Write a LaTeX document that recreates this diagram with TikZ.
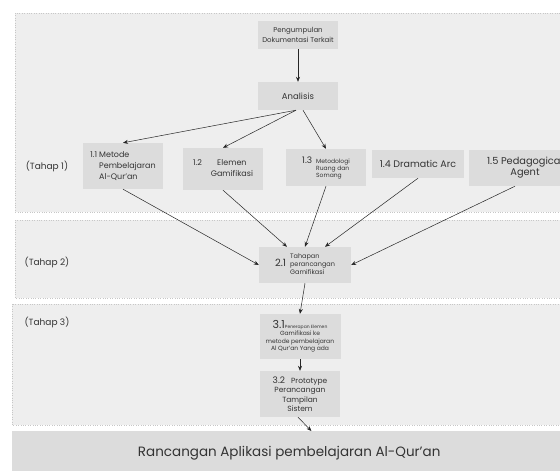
\documentclass[tikz,border=0pt]{standalone}
\usepackage{fontspec}
\setmainfont{Poppins}
\usetikzlibrary{arrows.meta}
\definecolor{bandgray}{HTML}{EEEEEE}
\definecolor{boxgray}{HTML}{DCDCDC}
\definecolor{txtgray}{HTML}{333333}
\newcommand{\fsz}[2]{\fontsize{#1}{#2}\selectfont}
\begin{document}
\begin{tikzpicture}[x=1pt, y=-1pt,
    band/.style={fill=bandgray, draw=black!22, dotted},
    box/.style={fill=boxgray, text=txtgray, inner sep=1pt, align=center},
    tahap/.style={text=txtgray, font=\fsz{9}{10}},
    arr/.style={-{Stealth[length=5pt,width=4pt]}, black!85, line width=0.5pt}]
  \clip (0,0) rectangle (560,471);
  \fill[white] (0,0) rectangle (560,471);
  % bands
  \draw[band] (15,13) rectangle (566,212);
  \draw[band] (15,220) rectangle (566,298);
  \draw[band] (12,304) rectangle (566,425);
  \node[tahap] (t1) at (47,166) {(Tahap 1)};
  \node[tahap] (t2) at (47,262) {(Tahap 2)};
  \node[tahap] (t3) at (47,322) {(Tahap 3)};
  % boxes
  \node[box, minimum width=80pt, minimum height=28pt, font=\fsz{7}{10}] (peng) at (298,35)
    {Pengumpulan\\Dokumentasi Terkait};
  \node[box, minimum width=80pt, minimum height=28pt, font=\fsz{8.5}{10}] (ana) at (298,96) {Analisis};
  \node[box, minimum width=80pt, minimum height=46pt, font=\fsz{8}{11}] (m11) at (123,166)
    {\begin{tabular}{@{}l@{\hspace{2pt}}l@{}}1.1&Metode\\&Pembelajaran\\&Al-Qur'an\end{tabular}};
  \node[box, minimum width=80pt, minimum height=42pt, font=\fsz{8}{11}] (m12) at (223,169)
    {\begin{tabular}{@{}l@{\hspace{9pt}}c@{}}1.2&Elemen\\&Gamifikasi\end{tabular}};
  \node[box, minimum width=80pt, minimum height=37pt] (m13) at (326,167.5)
    {\begin{tabular}{@{}l@{\hspace{4pt}}l@{}}\fsz{9}{9}1.3&\fsz{6}{7}\begin{tabular}[t]{@{}l@{}}Metodologi\\Ruang dan\\Somang\end{tabular}\end{tabular}};
  \node[box, minimum width=92pt, minimum height=28pt, font=\fsz{9.5}{11}] (m14) at (418,164) {1.4 Dramatic Arc};
  \node[box, minimum width=112pt, minimum height=36pt, font=\fsz{9.8}{11}] (m15) at (525,168)
    {1.5 Pedagogical\\Agent};
  \node[box, minimum width=92pt, minimum height=36pt] (tah) at (305,265)
    {\begin{tabular}{@{}l@{\hspace{4pt}}l@{}}\fsz{10}{10}2.1&\fsz{6.5}{8}\begin{tabular}[c]{@{}l@{}}Tahapan\\perancangan\\Gamifikasi\end{tabular}\end{tabular}};
  \node[box, minimum width=81pt, minimum height=45pt, font=\fsz{6}{7.5}] (p31) at (300,336.5)
    {\begin{tabular}{@{}c@{}}{\fsz{11}{11}3.1}{\fsz{4.5}{5}Penerapan Elemen}\\
     Gamifikasi ke\\metode pembelajaran\\Al Qur'an Yang ada\end{tabular}};
  \node[box, minimum width=80pt, minimum height=46pt, font=\fsz{7.5}{9.5}] (p32) at (300,394)
    {{\fsz{9}{9}3.2}\hspace{6pt}Prototype\\Perancangan\\Tampilan\\Sistem};
  \node[box, minimum width=554pt, minimum height=44pt, font=\fsz{13.5}{15}, anchor=north west] (hasil) at (12,431)
    {Rancangan Aplikasi pembelajaran Al-Qur'an};
  % connectors
  \draw[arr] (peng) -- (ana);
  \draw[arr] ([xshift=-2pt]ana.south) -- (m11.north);
  \draw[arr] ([xshift=-2pt]ana.south) -- (m12.north);
  \draw[arr] ([xshift=5pt]ana.south) -- (m13.north);
  \draw[arr] (m11.south) -- (tah.west);
  \draw[arr] (m12.south) -- ([xshift=-18pt]tah.north);
  \draw[arr] (m13.south) -- (tah.north);
  \draw[arr] (m14.south) -- ([xshift=20pt]tah.north);
  \draw[arr] ([xshift=-10pt]m15.south) -- (tah.east);
  \draw[arr] (tah.south) -- (p31.north);
  \draw[arr] (p31) -- (p32);
  \draw[arr] ([xshift=-2pt]p32.south) -- ([xshift=-255pt]hasil.north east);
\end{tikzpicture}
\end{document}
